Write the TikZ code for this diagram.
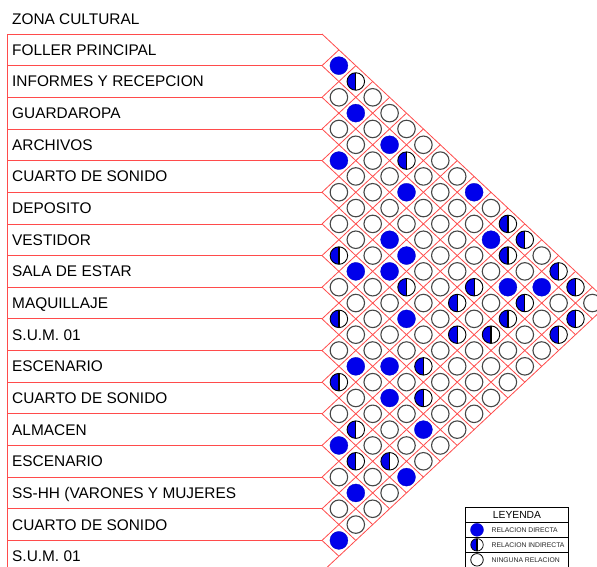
\documentclass[tikz,border=0pt]{standalone}
\usepackage{fontspec}
\setmainfont{Liberation Sans}
\definecolor{gridred}{RGB}{255,75,75}
\definecolor{relblue}{RGB}{0,0,235}
\definecolor{ringgray}{RGB}{70,70,70}
\newcommand\relcirc[3]{%
  \pgfmathsetmacro\rcx{322+#1*16.9}%
  \pgfmathsetmacro\rcy{49.83+#1*15.825+(#2-1)*31.65}%
  \if#3F\node[fullc] (r#1-#2) at (\rcx,\rcy) {};\fi
  \if#3E\node[emptyc] (r#1-#2) at (\rcx,\rcy) {};\fi
  \if#3H\node[halfc] (r#1-#2) at (\rcx,\rcy) {};\fi
}
\tikzset{
  gridline/.style={draw=gridred, line width=0.8pt},
  fullc/.style={circle, fill=relblue, draw=relblue!80!black, line width=0.3pt, minimum size=18pt, inner sep=0pt},
  emptyc/.style={circle, fill=white, draw=ringgray, line width=1.1pt, minimum size=17.5pt, inner sep=0pt},
  halfc/.style={circle, fill=white, draw=black, line width=0.9pt, minimum size=17.5pt, inner sep=0pt,
    path picture={\fill[relblue] (path picture bounding box.south west) rectangle (path picture bounding box.north);
      \draw[black, line width=1.2pt] (path picture bounding box.south) -- (path picture bounding box.north);}},
  lbl/.style={anchor=base west, inner sep=0pt, font=\fontsize{15.4}{18}\selectfont, text=black},
  legtxt/.style={anchor=west, inner sep=0pt, font=\fontsize{6.8}{8}\selectfont, text=black!85}
}
\begin{document}
\begin{tikzpicture}[x=1pt, y=-1pt]
\useasboundingbox (0,0) rectangle (597,566);
\clip (0,0) rectangle (597,566);
% title
\node[lbl] (title) at (12,24.5) {ZONA CULTURAL};
% row lines
\foreach \k in {0,...,17} \draw[gridline] (7,{34+\k*31.65}) -- (322,{34+\k*31.65});
\draw[gridline] (7,34) -- (7,572);
% diagonal grid
\foreach \k in {0,...,16} \draw[gridline] (322,{34+\k*31.65}) -- ++({(17-\k)*16.9},{(17-\k)*15.825});
\foreach \k in {1,...,17} \draw[gridline] (322,{34+\k*31.65}) -- ++({\k*16.9},{-\k*15.825});
% labels
\foreach \txt [count=\k] in {FOLLER PRINCIPAL, INFORMES Y RECEPCION, GUARDAROPA, ARCHIVOS, CUARTO DE SONIDO, DEPOSITO, VESTIDOR, SALA DE ESTAR, MAQUILLAJE, S.U.M. 01, ESCENARIO, CUARTO DE SONIDO, ALMACEN, ESCENARIO, SS-HH (VARONES Y MUJERES, CUARTO DE SONIDO, S.U.M. 01}
  \node[lbl] (L\k) at (12,{49.83+(\k-1)*31.65+5.5}) {\txt};
% relation circles
\foreach \t [count=\i] in {F,E,E,F,E,E,H,E,H,E,H,E,F,E,E,F} {\relcirc{1}{\i}{\t}}
\foreach \t [count=\i] in {H,F,E,E,E,E,F,E,E,F,E,H,H,F,E} {\relcirc{2}{\i}{\t}}
\foreach \t [count=\i] in {E,E,E,E,E,E,E,E,E,E,E,E,E,E} {\relcirc{3}{\i}{\t}}
\foreach \t [count=\i] in {E,F,E,E,F,F,E,E,F,F,E,H,E} {\relcirc{4}{\i}{\t}}
\foreach \t [count=\i] in {E,H,F,E,F,H,F,E,E,E,E,F} {\relcirc{5}{\i}{\t}}
\foreach \t [count=\i] in {E,E,E,E,E,E,E,H,H,F,E} {\relcirc{6}{\i}{\t}}
\foreach \t [count=\i] in {E,E,E,E,E,E,E,E,E,E} {\relcirc{7}{\i}{\t}}
\foreach \t [count=\i] in {E,E,E,E,H,H,E,E,E} {\relcirc{8}{\i}{\t}}
\foreach \t [count=\i] in {F,E,E,H,E,E,E,E} {\relcirc{9}{\i}{\t}}
\foreach \t [count=\i] in {E,F,E,E,H,E,E} {\relcirc{10}{\i}{\t}}
\foreach \t [count=\i] in {H,H,F,H,E,E} {\relcirc{11}{\i}{\t}}
\foreach \t [count=\i] in {H,E,H,E,E} {\relcirc{12}{\i}{\t}}
\foreach \t [count=\i] in {E,F,E,E} {\relcirc{13}{\i}{\t}}
\foreach \t [count=\i] in {H,E,H} {\relcirc{14}{\i}{\t}}
\foreach \t [count=\i] in {H,H} {\relcirc{15}{\i}{\t}}
\foreach \t [count=\i] in {E} {\relcirc{16}{\i}{\t}}
% legend
\fill[white] (465,507.3) rectangle (568.3,575);
\draw[black, line width=0.6pt] (465,507.3) rectangle (568.3,575);
\draw[black, line width=0.6pt] (465,522.3) -- (568.3,522.3);
\draw[black, line width=0.6pt] (465,537.3) -- (568.3,537.3);
\draw[black, line width=0.6pt] (465,552.3) -- (568.3,552.3);
\node[inner sep=0pt, font=\fontsize{10.3}{12}\selectfont] (leyenda) at (517,515) {LEYENDA};
\node[fullc, minimum size=13pt] (lg1) at (477,529.8) {};
\node[halfc, minimum size=12.5pt, line width=0.7pt] (lg2) at (477,544.8) {};
\node[emptyc, minimum size=12.5pt, line width=0.8pt, draw=black] (lg3) at (477,559.8) {};
\node[legtxt] (lt1) at (491.5,530) {RELACION DIRECTA};
\node[legtxt] (lt2) at (491.5,545) {RELACION INDIRECTA};
\node[legtxt] (lt3) at (491.5,560.5) {NINGUNA RELACION};
\end{tikzpicture}
\end{document}
